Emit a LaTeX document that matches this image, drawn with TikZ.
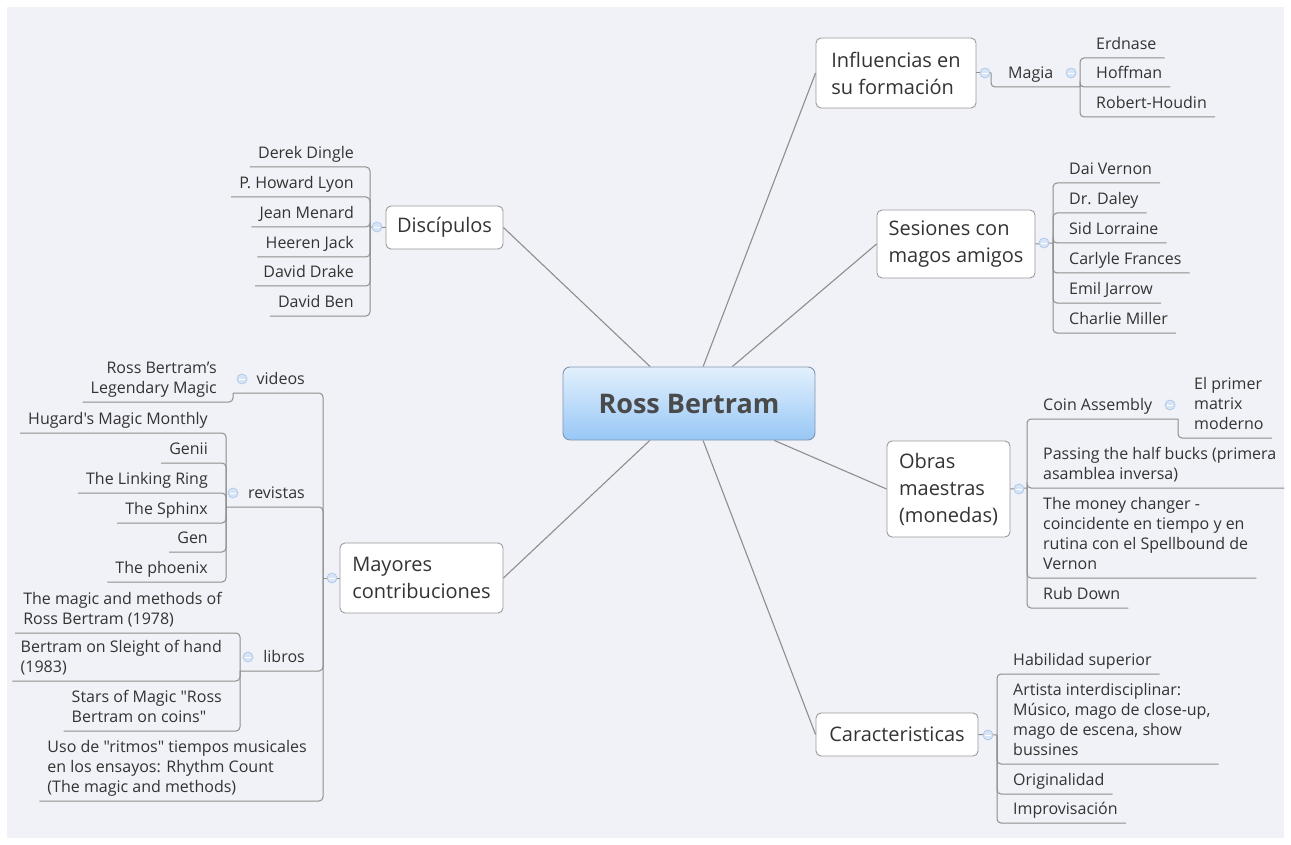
\documentclass[tikz,border=0pt]{standalone}
\usepackage{fontspec}
\setmainfont{Open Sans}
\newfontfamily\mmfont{Open Sans}
\usetikzlibrary{calc}
\definecolor{bgcol}{HTML}{F1F2F7}
\definecolor{linecol}{HTML}{8E8E8E}
\definecolor{txtcol}{HTML}{333333}
\definecolor{centraltxt}{HTML}{4A4A4A}
\definecolor{topicborder}{HTML}{9A9A9A}
\definecolor{btnfill}{HTML}{D6E4F6}
\definecolor{btndraw}{HTML}{A8C2E6}
\definecolor{ctop}{HTML}{E2F0FD}
\definecolor{cbot}{HTML}{98C7F6}
\definecolor{cborder}{HTML}{8295AD}
\newcommand\mmleaf{\mmfont\fontsize{16}{20}\selectfont}
\newcommand\mmtopic{\mmfont\fontsize{20}{27}\selectfont}
\newcommand\mmcentral{\mmfont\fontsize{27}{32}\selectfont\bfseries}
\tikzset{
 topic/.style={draw=topicborder, fill=white, rounded corners=5pt, line width=0.9pt, font=\mmtopic, text=txtcol, align=left, inner sep=0pt},
 leaf/.style={font=\mmleaf, text=txtcol, inner xsep=8pt, inner ysep=4pt, execute at end node={\rule[-4pt]{0pt}{12pt}}},
 leafR/.style={leaf, align=left, anchor=south west},
 leafL/.style={leaf, align=right, anchor=south east},
 leafLl/.style={leaf, align=left, anchor=south east},
 branch/.style={draw=linecol, line width=1pt, rounded corners=4pt},
 mainline/.style={draw=linecol, line width=1.1pt},
 btn/.style={circle, minimum size=10pt, inner sep=0pt, fill=btnfill, draw=btndraw, line width=0.6pt,
   path picture={\draw[white, line width=0.9pt] ([xshift=-2.6pt]path picture bounding box.center) -- ([xshift=2.6pt]path picture bounding box.center);}},
}
\begin{document}
\begin{tikzpicture}[x=1pt,y=-1pt]
\useasboundingbox (0,0) rectangle (1291,845);
\fill[white] (0,0) rectangle (1291,845);
\fill[bgcol] (7,7) rectangle (1284,838);

% central and topics
\node[draw=cborder, line width=0.9pt, rounded corners=7pt, top color=ctop, bottom color=cbot,
      minimum width=252pt, minimum height=73pt, font=\mmcentral, text=centraltxt] (central) at (689,403.5) {Ross Bertram};
\node[topic, minimum width=160pt, minimum height=70pt] (infl) at (896,73) {Influencias en\\su formación};
\node[topic, minimum width=158pt, minimum height=68pt] (ses) at (956,244) {Sesiones con\\magos amigos};
\node[topic, minimum width=123pt, minimum height=96pt] (obras) at (948.5,489) {Obras\\maestras\\(monedas)};
\node[topic, minimum width=162pt, minimum height=43pt] (car) at (897,734.5) {Caracteristicas};
\node[topic, minimum width=117pt, minimum height=43pt] (disc) at (444.5,227.5) {Discípulos};
\node[topic, minimum width=163pt, minimum height=70pt] (may) at (421.5,578) {Mayores\\contribuciones};

\draw[mainline] (central) -- (infl.west);
\draw[mainline] (central) -- (ses.west);
\draw[mainline] (central) -- (obras.west);
\draw[mainline] (central) -- (car.west);
\draw[mainline] (central) -- (disc.east);
\draw[mainline] (central) -- (may.east);

% spine points
\coordinate (spI) at (991,73);
\coordinate (spM) at (1080,87);
\coordinate (spS) at (1053,243);
\coordinate (spO) at (1027,488);
\coordinate (spC) at (1178,419);
\coordinate (spCa) at (997,735);
\coordinate (spD) at (370,227);
\coordinate (spMa) at (323,578);
\coordinate (spV) at (233,393);
\coordinate (spR) at (226,507);
\coordinate (spL) at (240,671);

% Influencias
\node[leafR] (magia) at (1000,87) {Magia};
\node[leafR] (erd) at (1088,58) {Erdnase};
\node[leafR] (hof) at (1088,87) {Hoffman};
\node[leafR] (rh) at (1088,117) {Robert-Houdin};
\draw[branch] (infl.east) -- (spI |- infl.east);
\draw[branch] (spI) |- (spM);
\draw[branch] (spM) |- (erd.south east);
\draw[branch] (spM) |- (hof.south east);
\draw[branch] (spM) |- (rh.south east);

% Sesiones
\node[leafR] (dv) at (1061,183) {Dai Vernon};
\node[leafR] (dr) at (1061,213) {Dr. Daley};
\node[leafR] (sl) at (1061,243) {Sid Lorraine};
\node[leafR] (cf) at (1061,273) {Carlyle Frances};
\node[leafR] (ej) at (1061,303) {Emil Jarrow};
\node[leafR] (cm) at (1061,333) {Charlie Miller};
\draw[branch] (ses.east) -- (spS);
\foreach \n in {dv,dr,sl,cf,ej,cm} \draw[branch] (spS) |- (\n.south east);

% Obras
\node[leafR] (coin) at (1035,419) {Coin Assembly};
\node[leafR] (elp) at (1186,438) {El primer\\matrix\\moderno};
\node[leafR] (pass) at (1035,488) {Passing the half bucks (primera\\asamblea inversa)};
\node[leafR] (money) at (1035,578) {The money changer -\\coincidente en tiempo y en\\rutina con el Spellbound de\\Vernon};
\node[leafR] (rub) at (1035,608) {Rub Down};
\draw[branch] (obras.east) -- (spO);
\draw[branch] (spO) |- (spC);
\draw[branch] (spC) |- (elp.south east);
\foreach \n in {pass,money,rub} \draw[branch] (spO) |- (\n.south east);

% Caracteristicas
\node[leafR] (hab) at (1005,674) {Habilidad superior};
\node[leafR] (art) at (1005,764) {Artista interdisciplinar:\\Músico, mago de close-up,\\mago de escena, show\\bussines};
\node[leafR] (ori) at (1005,794) {Originalidad};
\node[leafR] (imp) at (1005,823) {Improvisación};
\draw[branch] (car.east) -- (spCa);
\foreach \n in {hab,art,ori,imp} \draw[branch] (spCa) |- (\n.south east);

% Discipulos
\node[leafL] (dd) at (362,167) {Derek Dingle};
\node[leafL] (phl) at (362,197) {P. Howard Lyon};
\node[leafL] (jm) at (362,227) {Jean Menard};
\node[leafL] (hj) at (362,257) {Heeren Jack};
\node[leafL] (ddr) at (362,286) {David Drake};
\node[leafL] (db) at (362,316) {David Ben};
\draw[branch] (disc.west) -- (spD);
\foreach \n in {dd,phl,jm,hj,ddr,db} \draw[branch] (spD) |- (\n.south west);

% Mayores contribuciones
\node[leafL] (vid) at (313,393) {videos};
\node[leafL] (rbl) at (225,402) {Ross Bertram’s\\Legendary Magic};
\node[leafL] (rev) at (313,507) {revistas};
\node[leafL] (hug) at (216,433) {Hugard's Magic Monthly};
\node[leafL] (gen) at (216,463) {Genii};
\node[leafL] (lr) at (216,493) {The Linking Ring};
\node[leafL] (sph) at (216,523) {The Sphinx};
\node[leafL] (gn) at (216,552) {Gen};
\node[leafL] (ph) at (216,582) {The phoenix};
\node[leafL] (lib) at (313,671) {libros};
\node[leafLl] (mm) at (230,633) {The magic and methods of\\Ross Bertram (1978)};
\node[leafLl] (bs) at (230,681) {Bertram on Sleight of hand\\(1983)};
\node[leafLl] (som) at (230,731) {Stars of Magic "Ross\\Bertram on coins"};
\node[leafLl] (uso) at (315,801) {Uso de "ritmos" tiempos musicales\\en los ensayos: Rhythm Count\\(The magic and methods)};
\draw[branch] (may.west) -- (spMa);
\draw[branch] (spMa) |- (spV);
\draw[branch] (spMa) |- (spR);
\draw[branch] (spMa) |- (spL);
\draw[branch] (spMa) |- (uso.south west);
\draw[branch] (spV) |- (rbl.south west);
\foreach \n in {hug,gen,lr,sph,gn,ph} \draw[branch] (spR) |- (\n.south west);
\foreach \n in {mm,bs,som} \draw[branch] (spL) |- (\n.south west);

% collapse buttons
\node[btn] (bI) at (985,73) {};
\node[btn] (bM) at (1071,73) {};
\node[btn] (bS) at (1044,243) {};
\node[btn] (bO) at (1019,489) {};
\node[btn] (bC) at (1170,405) {};
\node[btn] (bCa) at (988,735) {};
\node[btn] (bD) at (377,227) {};
\node[btn] (bMa) at (332,578) {};
\node[btn] (bV) at (242,379) {};
\node[btn] (bR) at (233,493) {};
\node[btn] (bL) at (248,657) {};
\end{tikzpicture}
\end{document}
